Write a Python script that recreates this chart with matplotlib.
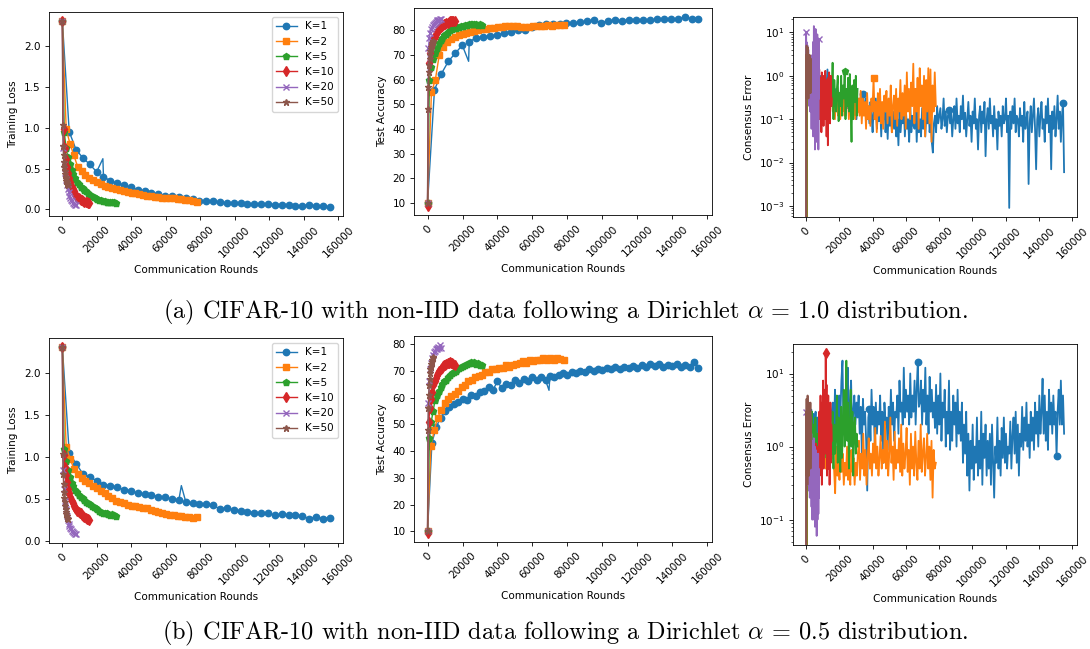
import numpy as np
import matplotlib
matplotlib.use("Agg")
import matplotlib.pyplot as plt

plt.rcParams.update({
    "font.family": "DejaVu Sans",
    "font.size": 7.5,
    "axes.linewidth": 0.6,
    "xtick.major.width": 0.6, "ytick.major.width": 0.6,
    "xtick.minor.width": 0.45, "ytick.minor.width": 0.45,
    "xtick.major.size": 2.6, "ytick.major.size": 2.6,
    "xtick.minor.size": 1.5, "ytick.minor.size": 1.5,
    "mathtext.fontset": "cm",
})

# ---------------------------------------------------------------- settings
labels = ["K=1", "K=2", "K=5", "K=10", "K=20", "K=50"]
markers = ["o", "s", "p", "d", "x", "*"]
colors = ["C0", "C1", "C2", "C3", "C4", "C5"]
total_rounds = [155000, 78000, 31000, 15500, 7750, 3100]

# ---------------------------------------------------------------- alpha = 1.0
loss_a10 = [
    [2.30, 0.95, 0.73, 0.63, 0.55, 0.46, 0.40, 0.35, 0.32, 0.30,
     0.27, 0.24, 0.22, 0.20, 0.19, 0.17, 0.16, 0.155, 0.14, 0.13,
     0.105, 0.10, 0.105, 0.09, 0.08, 0.08, 0.075, 0.07, 0.065, 0.065,
     0.062, 0.06, 0.06, 0.06, 0.045, 0.045, 0.057, 0.042, 0.04, 0.033],
    [2.30, 0.98, 0.80, 0.66, 0.52, 0.47, 0.42, 0.39, 0.36, 0.33, 0.31, 0.29,
     0.27, 0.26, 0.25, 0.235, 0.22, 0.21, 0.20, 0.195, 0.185, 0.18, 0.17, 0.165,
     0.155, 0.15, 0.145, 0.14, 0.14, 0.135, 0.13, 0.125, 0.12, 0.11, 0.105, 0.095],
    [2.30, 0.95, 0.75, 0.64, 0.55, 0.48, 0.43, 0.38, 0.34, 0.31, 0.28, 0.26,
     0.24, 0.22, 0.20, 0.18, 0.165, 0.15, 0.14, 0.13, 0.12, 0.11, 0.105, 0.10,
     0.095, 0.09, 0.09, 0.085, 0.085, 0.08],
    [2.30, 0.98, 0.75, 0.62, 0.52, 0.44, 0.38, 0.33, 0.28, 0.25, 0.22, 0.19,
     0.17, 0.155, 0.14, 0.13, 0.12, 0.11, 0.10, 0.095, 0.09, 0.085, 0.08, 0.08],
    [2.30, 0.75, 0.55, 0.45, 0.36, 0.30, 0.25, 0.21, 0.17, 0.14, 0.12, 0.10,
     0.08, 0.07, 0.06, 0.05],
    [2.30, 1.03, 0.78, 0.66, 0.58, 0.52, 0.47, 0.43, 0.40, 0.37, 0.35, 0.33,
     0.31, 0.30],
]
loss_a10_spike = (23500, 0.62)

acc_a10 = [
    [10, 56, 62.5, 67.5, 70.8, 74, 75.5, 77, 77.5, 77.8,
     78.2, 79, 79.5, 80, 80.3, 81.5, 82.3, 82.6, 82.8, 82.8,
     82.9, 83.1, 83.3, 83.8, 84.1, 83.1, 84, 84.1, 84, 84.2,
     84.4, 84.3, 84.1, 84.5, 84.7, 84.6, 84.8, 85.3, 84.8, 84.7],
    [10, 55, 60, 70, 73.5, 75.5, 76.5, 77.5, 78, 78.7, 79, 79.4,
     79.8, 80.1, 80.4, 80.7, 81, 81.2, 81.4, 81.6, 81.8, 82, 82, 81.8,
     81.6, 81.4, 81.6, 81.8, 82, 82, 82, 82.1, 82, 82.1, 82.2, 82.4],
    [10, 60, 65, 68.5, 71, 73, 75, 76, 77, 78, 78.5, 79.2, 80, 80.5, 81,
     81.2, 81.4, 81.6, 81.8, 82, 82.1, 82.3, 82.5, 82.8, 82.8, 82.6, 82.5,
     82.4, 82.5, 82.4],
    [9, 67, 71, 73.5, 75, 76.5, 77.5, 78.5, 79.5, 80, 80.8, 81.3, 81.8, 82.2,
     82.5, 82.8, 83, 83.2, 83.5, 83.7, 83.8, 84, 83.8, 84],
    [10, 73, 77, 79, 80.5, 81.5, 82.2, 82.8, 83.2, 83.6, 84, 84.2, 84.4, 84.3,
     84.5, 84.6],
    [10, 48, 57, 63, 66, 68.5, 70, 71.5, 72.5, 73.5, 74.2, 74.8, 75.3, 75.8],
]
acc_a10_spike = (23500, 67.5)

cons_a10 = [
    [0,
     0.9, 1.3, 0.7, 1.1, 0.6, 0.9, 0.5, 1.2, 0.7, 0.5,
     0.8, 0.4, 0.9, 1.0, 0.6, 0.8, 0.4, 0.7, 0.5, 1.4,
     0.6, 0.3, 0.5, 0.7, 0.35, 0.6, 0.25, 0.5, 0.3, 0.45,
     0.2, 0.3, 0.4, 0.25, 0.38, 0.3, 0.12, 0.28, 0.18, 0.22,
     0.3, 0.15, 0.25, 0.12, 0.3, 0.2, 0.1, 0.25, 0.15, 0.3,
     0.2, 0.3, 0.38, 0.25, 0.15, 0.3, 0.1, 0.2, 0.08, 0.25,
     0.12, 0.05, 0.2, 0.1, 0.3, 0.06, 0.15, 0.09, 0.22, 0.04,
     0.18, 0.1, 0.25, 0.05, 0.14, 0.035, 0.2, 0.07, 0.12, 0.05,
     0.15, 0.06, 0.2, 0.04, 0.1, 0.025, 0.18, 0.05, 0.12, 0.08,
     0.2, 0.04, 0.15, 0.06, 0.1, 0.03, 0.2, 0.05, 0.12, 0.07,
     0.06, 0.2, 0.03, 0.15, 0.05, 0.1, 0.04, 0.18, 0.06, 0.12,
     0.04, 0.15, 0.08, 0.2, 0.05, 0.1, 0.03, 0.017, 0.08, 0.12,
     0.05, 0.2, 0.08, 0.12, 0.18, 0.06, 0.1, 0.3, 0.07, 0.15,
     0.05, 0.12, 0.16, 0.08, 0.14, 0.04, 0.1, 0.2, 0.06, 0.3,
     0.08, 0.12, 0.05, 0.2, 0.1, 0.35, 0.06, 0.14, 0.04, 0.1,
     0.25, 0.07, 0.12, 0.03, 0.15, 0.08, 0.3, 0.06, 0.1, 0.02,
     0.12, 0.2, 0.05, 0.15, 0.08, 0.25, 0.014, 0.1, 0.18, 0.06,
     0.3, 0.08, 0.12, 0.04, 0.2, 0.06, 0.1, 0.02, 0.15, 0.07,
     0.12, 0.04, 0.2, 0.08, 0.1, 0.3, 0.05, 0.12, 0.0009, 0.15,
     0.06, 0.2, 0.08, 0.3, 0.05, 0.12, 0.1, 0.04, 0.18, 0.07,
     0.12, 0.03, 0.25, 0.06, 0.1, 0.15, 0.0032, 0.08, 0.2, 0.05,
     0.12, 0.3, 0.06, 0.007, 0.1, 0.18, 0.04, 0.12, 0.25, 0.06,
     0.1, 0.03, 0.2, 0.08, 0.3, 0.05, 0.12, 0.007, 0.15, 0.06,
     0.2, 0.04, 0.1, 0.35, 0.06, 0.15, 0.03, 0.12, 0.24, 0.006],
    [0,
     1.0, 0.6, 1.2, 0.5, 0.8, 0.4, 0.9, 0.3, 0.7, 0.4,
     0.6, 0.3, 0.8, 0.25, 0.5, 0.15, 0.6, 0.2, 0.4, 0.14,
     0.5, 0.12, 0.3, 0.6, 0.15, 0.4, 0.1, 0.35, 0.2, 0.12,
     0.4, 0.1, 0.3, 0.15, 0.5, 0.12, 0.3, 0.2, 0.4, 0.1,
     0.3, 0.15, 0.5, 0.12, 0.25, 0.1, 0.35, 0.14, 0.3, 0.12,
     0.45, 0.08, 0.3, 0.12, 0.25, 0.06, 0.4, 0.1, 0.2, 0.07,
     0.3, 0.15, 0.9, 0.1, 0.25, 0.05, 0.4, 0.12, 0.5, 0.08,
     0.25, 0.06, 0.35, 0.15, 0.45, 0.08, 0.3, 0.12, 0.6, 0.05,
     0.2, 0.35, 0.1, 0.5, 0.07, 0.3, 0.15, 0.8, 0.1, 0.4,
     0.12, 0.6, 0.06, 1.2, 0.15, 0.5, 0.1, 0.7, 0.2, 1.9,
     0.08, 0.5, 0.15, 0.9, 0.06, 1.5, 0.2, 0.6, 0.1, 1.0,
     0.04, 0.8, 0.15, 1.5, 0.08, 1.4, 0.03, 0.6, 0.15, 1.2,
     0.2],
    [0,
     0.8, 0.5, 1.2, 0.4, 0.9, 0.3, 0.7, 0.5, 1.0, 0.3,
     0.6, 0.4, 0.8, 0.25, 0.5, 0.3, 0.7, 0.2, 0.5, 0.3,
     0.9, 0.4, 0.6, 0.3, 0.8, 0.2, 0.5, 0.4, 0.7, 0.3,
     2.0, 0.1, 0.8, 0.3, 0.15, 0.5, 1.0, 0.09, 0.4, 0.2,
     1.0, 0.12, 0.6, 0.3, 1.3, 0.1, 0.5, 0.2, 0.9, 0.15,
     1.1, 0.2, 0.03, 0.6, 0.1, 0.8, 0.25, 1.0, 0.12, 0.5],
    [0,
     1.0, 0.5, 1.2, 0.4, 0.9, 0.6, 1.3, 0.3, 0.8, 0.5,
     1.1, 0.4, 0.7, 0.3, 0.9, 0.2, 0.6, 0.4, 1.0, 0.3,
     0.8, 0.5, 1.0, 0.3, 0.6, 0.4, 0.9, 0.3, 0.7, 0.5,
     1.4, 0.1, 0.6, 0.2, 0.9, 0.05, 1.2, 0.3, 0.15, 0.8,
     0.07, 1.0, 0.2, 0.5, 1.3, 0.1, 0.6, 0.04, 0.8, 0.3,
     0.025, 0.9, 0.15, 1.2, 0.3, 0.08, 0.6, 1.0, 0.2, 0.3],
    [0,
     10, 2, 6, 0.5, 3, 1, 5, 0.4, 2, 0.8, 4, 0.3,
     1.5, 0.5, 3, 0.2, 1.0, 0.3, 2.0, 0.15, 1.0, 0.3, 1.5, 0.2,
     1.0, 0.06, 2.0, 0.3, 3.0, 0.1, 1.5, 0.4, 6.0, 0.04, 2.0, 0.5,
     14, 0.05, 3.0, 0.8, 8, 0.02, 1.0, 0.3, 12, 0.1, 2.0, 0.6,
     5, 0.03, 1.5, 0.2, 9, 0.05, 0.8, 0.3, 3, 0.02, 7, 0.3],
    [0,
     2.0, 0.4, 3.0, 0.6, 5.0, 0.3, 2.5, 0.8, 4.0, 0.5,
     1.5, 0.35, 3.5, 0.7, 2.0, 0.4, 4.5, 0.6, 1.2, 0.3,
     2.5, 0.5, 3.0, 0.8, 1.5, 0.4, 2.0, 0.6, 1.0, 0.5,
     3.0, 0.4, 2.0, 0.7, 1.5, 0.4, 2.5, 0.6, 1.2, 0.5],
]
cons_a10_marks = [[53, 133, 239], [63], [45], [], [1, 59], []]

# ---------------------------------------------------------------- alpha = 0.5
loss_a05 = [
    [2.30, 1.05, 0.92, 0.80, 0.76, 0.72, 0.67, 0.66, 0.64, 0.61,
     0.60, 0.57, 0.56, 0.55, 0.53, 0.52, 0.50, 0.49, 0.47, 0.45,
     0.44, 0.44, 0.43, 0.38, 0.40, 0.37, 0.36, 0.35, 0.34, 0.34,
     0.33, 0.31, 0.32, 0.31, 0.31, 0.30, 0.27, 0.29, 0.27, 0.28],
    [2.30, 1.12, 0.98, 0.86, 0.80, 0.75, 0.72, 0.69, 0.66, 0.63, 0.60, 0.57,
     0.54, 0.51, 0.48, 0.47, 0.45, 0.43, 0.42, 0.42, 0.41, 0.40, 0.39, 0.37,
     0.36, 0.35, 0.33, 0.32, 0.31, 0.31, 0.30, 0.30, 0.29, 0.29, 0.28, 0.29],
    [2.30, 1.10, 0.95, 0.84, 0.76, 0.69, 0.65, 0.61, 0.58, 0.55, 0.53, 0.51,
     0.49, 0.47, 0.45, 0.44, 0.42, 0.41, 0.39, 0.38, 0.36, 0.35, 0.34, 0.33,
     0.33, 0.32, 0.31, 0.32, 0.31, 0.30],
    [2.30, 1.02, 0.88, 0.78, 0.70, 0.62, 0.57, 0.52, 0.48, 0.45, 0.42, 0.40,
     0.38, 0.36, 0.35, 0.34, 0.33, 0.31, 0.30, 0.29, 0.28, 0.27, 0.26, 0.25],
    [2.30, 0.85, 0.62, 0.48, 0.38, 0.30, 0.25, 0.21, 0.18, 0.16, 0.14, 0.12,
     0.11, 0.10, 0.09, 0.09],
    [2.30, 1.04, 0.80, 0.68, 0.58, 0.51, 0.46, 0.42, 0.38, 0.35, 0.32, 0.30,
     0.28, 0.27],
]
loss_a05_spike = (69000, 0.66)

acc_a05 = [
    [10, 43, 49, 52.5, 55, 56.5, 57.5, 58.5, 59.5, 59, 61, 60.5, 62,
     62.5, 64, 63, 66, 63.5, 65, 64.5, 66.5, 65.5, 67, 66, 67.5, 66.5,
     67.8, 66.5, 68, 67.5, 68.5, 69, 68.5, 69.5, 69, 70, 69.5, 70.5, 70,
     70.8, 70.3, 71, 70.5, 71.3, 70.8, 71.5, 71, 71.8, 71.2, 72.2, 71.5,
     72.5, 71.8, 72.4, 71.5, 72.2, 71.6, 72.5, 71.4, 72, 71.5, 73.2, 71],
    [10, 42, 48, 52.5, 55.5, 58, 59.5, 60.5, 61.5, 62.5, 64, 64.5, 66, 66.5,
     67.5, 68, 68.5, 69.5, 69.5, 70.5, 70.5, 71.2, 71, 72, 71.5, 72.2, 72.5,
     73, 73.5, 73, 74, 73.5, 74.2, 74, 74.6, 74.2, 74.8, 74.2, 74.8, 74.3, 74.2],
    [10, 45, 51, 55, 59, 61, 62.5, 64, 65, 66, 66.5, 67.5, 68.5, 69, 69.5, 70,
     70.5, 71, 71.3, 71.8, 72, 72.5, 72.8, 73.2, 73, 73.3, 72.6, 72.8, 72.3, 72],
    [9.5, 51, 56, 59.5, 62, 64.5, 66, 67.3, 68.3, 69.3, 70, 70.6, 71.2, 71.6,
     72, 72.3, 72.6, 72.8, 73, 73.2, 73, 72.8, 72.5, 72],
    [10, 58, 66, 70.5, 73, 74.8, 76, 77, 77.5, 78, 78.5, 78.2, 79, 78.6, 79.5,
     78.5],
    [10, 48, 56, 61, 64.5, 67, 69, 70.5, 71.5, 72.5, 73.3, 74, 74.6, 75],
]
acc_a05_spike = (69500, 62.7)

cons_a05 = [
    [0,
     2.5, 1.5, 3.0, 2.0, 3.2, 1.2, 2.8, 2.0, 3.0, 1.5, 2.5, 1.0,
     2.0, 3.0, 1.5, 2.2, 2.8, 1.8, 3.0, 1.2, 2.5, 1.5, 2.0, 3.0,
     4.0, 1.0, 6.0, 2.0, 3.0, 1.5, 5.0, 2.5, 8.0, 15, 1.5, 5.0,
     2.0, 4.0, 12, 1.2, 4.0, 8.0, 1.5, 3.0, 5.0, 2.0, 4.0, 2.5,
     5.0, 1.5, 3.5, 0.8, 4.5, 2.0, 3.0, 1.2, 0.25, 2.5, 3.3, 1.2,
     6.0, 2.0, 3.5, 1.0, 4.0, 1.5, 3.0, 2.0, 5.0, 1.2, 3.0, 0.6,
     4.0, 2.0, 2.5, 0.9, 3.5, 1.5, 6.0, 2.0, 4.0, 1.2, 3.0, 2.5,
     5.0, 1.5, 8.0, 3.0, 4.0, 2.0, 12, 2.5, 6.0, 3.0, 5.0, 2.0,
     10, 2.5, 5.0, 3.0, 8.0, 2.0, 6.0, 14.5, 3.5, 4.0, 8.0, 2.0,
     6.0, 3.0, 12, 2.0, 5.0, 1.5, 9.0, 3.0, 6.0, 2.5, 4.0, 1.8,
     7.0, 1.5, 5.0, 2.0, 10, 1.2, 4.0, 2.5, 6.0, 1.0, 3.0, 1.5,
     8.0, 0.9, 3.0, 1.2, 5.0, 2.0, 4.0, 1.0, 6.0, 1.5, 3.0, 1.2,
     4.0, 0.6, 2.0, 0.8, 3.0, 0.4, 1.5, 0.25, 1.2, 0.5, 2.0, 0.35,
     1.0, 0.6, 2.5, 0.4, 1.2, 0.5, 3.0, 0.3, 1.5, 0.7, 2.0, 0.4,
     1.2, 0.5, 1.5, 0.3, 2.0, 0.6, 0.2, 1.0, 0.6, 2.5, 0.5, 1.2,
     0.4, 1.8, 0.7, 2.5, 0.6, 1.5, 0.5, 1.0, 0.8, 2.2, 0.5, 1.4,
     2.5, 0.8, 3.0, 0.6, 2.0, 0.4, 1.5, 1.0, 3.5, 0.9, 2.5, 1.2,
     4.0, 1.0, 2.0, 0.7, 3.0, 1.2, 2.5, 0.9, 4.0, 1.5, 3.0, 1.0,
     5.0, 1.5, 3.0, 8.5, 1.5, 5.0, 1.2, 3.0, 0.9, 6.0, 2.0, 4.0,
     1.5, 5.0, 2.0, 3.0, 0.75, 3.0, 6.0, 2.0, 8.0, 2.0, 5.0, 1.5],
    [0,
     1.5, 0.8, 2.0, 0.6, 1.2, 0.5, 1.8, 0.7, 1.0, 0.4, 1.5, 0.6,
     0.9, 0.5, 1.3, 0.7, 1.1, 0.5, 1.4, 0.6, 0.9, 0.5, 1.2, 0.7,
     0.8, 0.5, 0.23, 1.0, 0.4, 0.7, 0.35, 1.2, 0.45, 0.8, 0.3, 0.6,
     0.4, 1.0, 0.35, 0.5, 0.3, 0.9, 0.45, 0.7, 0.3, 0.6, 0.4, 0.8,
     1.2, 0.35, 0.8, 0.5, 1.5, 0.4, 0.9, 0.3, 0.7, 1.3, 0.5, 0.8,
     0.4, 1.1, 0.6, 1.8, 0.5, 1.0, 0.4, 0.7, 1.4, 0.5, 0.9, 0.6,
     2.2, 0.5, 1.2, 0.4, 0.8, 2.5, 0.6, 1.0, 0.35, 1.6, 0.5, 0.9,
     0.6, 1.3, 0.45, 2.0, 0.4, 1.1, 0.5, 0.8, 1.8, 0.45, 0.9, 0.3,
     1.5, 0.5, 1.0, 0.4, 1.6, 0.6, 0.35, 1.2, 0.5, 2.0, 0.45, 0.8,
     1.3, 0.4, 0.7, 1.5, 0.5, 1.0, 0.35, 1.2, 0.2, 0.9, 0.5, 0.6],
    [0,
     1.5, 0.6, 2.5, 1.0, 2.0, 0.8, 3.0, 1.2, 2.0, 0.7,
     2.5, 1.0, 1.5, 0.6, 2.0, 0.9, 1.2, 0.5, 1.8, 0.8,
     2.2, 1.0, 1.5, 0.7, 2.0, 0.9, 1.4, 0.6, 1.8, 0.8,
     3.0, 0.5, 2.0, 0.8, 1.5, 5.0, 0.6, 2.5, 1.0, 0.45,
     3.5, 0.7, 2.0, 6.0, 1.0, 2.5, 15, 1.2, 4.0, 0.5,
     1.5, 6.0, 1.0, 3.0, 0.4, 2.0, 2.5, 0.8, 1.5, 1.0],
    [0,
     1.0, 0.4, 1.2, 0.5, 0.9, 0.3, 1.1, 0.6, 0.8, 0.3,
     1.0, 0.5, 1.2, 0.4, 0.8, 0.3, 1.0, 0.5, 0.7, 0.4,
     0.9, 0.5, 1.1, 0.4, 0.8, 0.3, 1.0, 0.6, 0.7, 0.4,
     3.0, 0.4, 1.5, 5.0, 0.6, 2.0, 0.3, 4.0, 1.0, 8.0,
     0.5, 3.0, 1.2, 6.0, 0.8, 19, 2.0, 7.0, 0.4, 3.0,
     1.0, 5.0, 0.5, 2.5, 0.3, 1.5, 4.0, 0.6, 2.0, 1.2],
    [0,
     3.0, 0.5, 1.5, 0.3, 2.0, 0.6, 1.2, 0.4, 1.8, 0.3, 1.0, 0.5,
     1.4, 0.25, 0.9, 0.4, 1.2, 0.2, 0.8, 0.3, 1.5, 0.4, 1.0, 0.3,
     1.5, 0.15, 0.8, 0.3, 1.2, 0.1, 0.6, 0.25, 1.0, 0.15, 0.5, 0.2,
     1.3, 0.1, 0.7, 0.3, 1.0, 0.08, 0.5, 0.2, 0.9, 0.12, 0.6, 0.25,
     0.8, 0.06, 0.4, 0.15, 0.7, 0.1, 0.5, 0.2, 0.8, 0.12, 0.5, 0.2],
    [0,
     2.0, 0.5, 3.0, 0.8, 4.5, 0.4, 2.5, 1.0, 4.0, 0.5,
     1.5, 0.3, 5.0, 0.7, 2.0, 0.4, 3.5, 0.9, 1.5, 0.5,
     4.0, 0.8, 2.0, 0.4, 3.0, 1.0, 1.5, 0.6, 2.5, 1.2,
     3.5, 0.6, 2.0, 0.9, 4.0, 0.5, 1.8, 0.7, 2.5, 1.0],
]
cons_a05_marks = [[59, 104, 233], [], [], [46], [1], []]

captions = [
    r"(a) CIFAR-10 with non-IID data following a Dirichlet $\alpha$ = 1.0 distribution.",
    r"(b) CIFAR-10 with non-IID data following a Dirichlet $\alpha$ = 0.5 distribution.",
]

# ---------------------------------------------------------------- drawing
W, H = 1090, 649
fig = plt.figure(figsize=(W / 100, H / 100), dpi=100)


def add_axes(left, top, right, bottom):
    return fig.add_axes([left / W, 1 - bottom / H, (right - left) / W, (bottom - top) / H])


def curve_panel(ax, series, spike, ylabel, legend=False):
    for i, vals in enumerate(series):
        x = np.linspace(0, total_rounds[i], len(vals))
        y = np.asarray(vals, dtype=float)
        every = None
        if i == 0 and spike is not None:
            pos = int(np.searchsorted(x, spike[0]))
            x = np.insert(x, pos, spike[0])
            y = np.insert(y, pos, spike[1])
            every = [j for j in range(len(x)) if j != pos]
        ax.plot(x, y, marker=markers[i], color=colors[i], label=labels[i],
                lw=1.0, ms=4.6, markevery=every)
    ax.set_xlabel("Communication Rounds")
    ax.set_ylabel(ylabel)
    ax.tick_params(axis="x", labelrotation=45)
    if legend:
        ax.legend(loc="upper right", fontsize=7.5)


def cons_panel(ax, series, marks):
    ax.set_yscale("log")
    for i, vals in enumerate(series):
        x = np.linspace(0, total_rounds[i], len(vals))
        y = np.asarray(vals, dtype=float)
        if marks[i]:
            ax.plot(x, y, color=colors[i], lw=1.3, marker=markers[i], ms=4.6,
                    markevery=marks[i], label=labels[i])
        else:
            ax.plot(x, y, color=colors[i], lw=1.3, label=labels[i])
    ax.set_xlabel("Communication Rounds")
    ax.set_ylabel("Consensus Error")
    ax.tick_params(axis="x", labelrotation=45)


# row (a)
curve_panel(add_axes(49, 12, 343, 216), loss_a10, loss_a10_spike, "Training Loss", legend=True)
curve_panel(add_axes(414, 8, 712, 215), acc_a10, acc_a10_spike, "Test Accuracy")
cons_panel(add_axes(793, 17, 1077, 217), cons_a10, cons_a10_marks)

# row (b)
curve_panel(add_axes(49, 338, 343, 543), loss_a05, loss_a05_spike, "Training Loss", legend=True)
curve_panel(add_axes(414, 336, 712, 542), acc_a05, acc_a05_spike, "Test Accuracy")
cons_panel(add_axes(793, 344, 1077, 545), cons_a05, cons_a05_marks)

fig.text(565 / W, 1 - 318 / H, captions[0], ha="center", va="baseline",
         family="cmr10", fontsize=17.5)
fig.text(565 / W, 1 - 639 / H, captions[1], ha="center", va="baseline",
         family="cmr10", fontsize=17.5)

fig.savefig("out.png", dpi=100)
